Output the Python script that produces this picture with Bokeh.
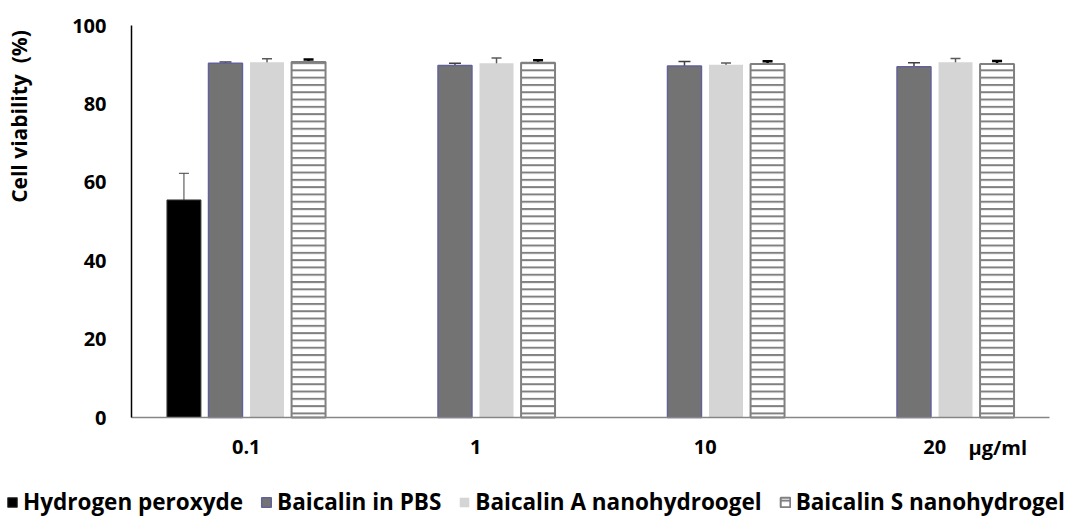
import numpy as np
from bokeh.plotting import figure
from bokeh.models import (ColumnDataSource, Range1d, FixedTicker, Whisker, TeeHead,
                          Legend, LegendItem, Label)
from bokeh.embed import file_html
from bokeh.resources import INLINE

# ---- data ----
concentrations = ["0.1", "1", "10", "20"]
unit_text = "\u00b5g/ml"
y_title = "Cell viability\u00a0\u00a0(%)"
h2o2_conc = ["0.1"]
h2o2 = [55.5]
h2o2_err = [6.8]
pbs = [90.4, 89.8, 89.7, 89.5]
pbs_err = [0.3, 0.6, 1.1, 1.0]
gel_a = [90.6, 90.4, 90.0, 90.6]
gel_a_err = [0.9, 1.3, 0.45, 0.95]
gel_s = [90.7, 90.5, 90.2, 90.2]
gel_s_err = [0.6, 0.65, 0.65, 0.75]
series_names = ["Hydrogen peroxyde", "Baicalin in PBS",
                "Baicalin A nanohydroogel", "Baicalin S nanohydrogel"]
y_ticks = [0, 20, 40, 60, 80, 100]

FONT = "Open Sans"
W, H = 1075, 519
# pixel layout of the plotting area (axes at px 131 / 417, top at 25, right at 1049)
AX_L, AX_R, AX_T, AX_B = 131, 1049, 25, 417
ncat = len(concentrations)
xs = (AX_R - AX_L) / ncat          # px per category unit
ys = (AX_B - AX_T) / 100.0         # px per percent

centers = {c: i + 0.5 for i, c in enumerate(concentrations)}
step = 0.181
bw = 0.148

styles = [
    dict(fill_color="black", line_color="#3a3a3a", line_width=1),
    dict(fill_color="#737373", line_color="#62629a", line_width=1.5),
    dict(fill_color="#d5d5d5", line_color=None),
    dict(fill_color="white", line_color="#808080", line_width=2,
         hatch_pattern="horizontal_line", hatch_color="#808080",
         hatch_weight=2, hatch_scale=7.3),
]


def src(concs, vals, errs, k):
    x = [centers[c] + (k - 1.5) * step for c in concs]
    v = np.array(vals)
    e = np.array(errs)
    return ColumnDataSource(dict(x=x, top=v, upper=v + e, lower=v - e))


p = figure(width=W, height=H, output_backend="svg", toolbar_location=None,
           x_range=Range1d(-AX_L / xs, ncat + (W - AX_R) / xs),
           y_range=Range1d(-(H - AX_B) / ys, 100 + AX_T / ys),
           min_border=0, min_border_left=0, min_border_right=0,
           min_border_top=0, min_border_bottom=0)
p.outline_line_color = None
p.grid.visible = False
p.background_fill_color = "white"
p.border_fill_color = "white"

sources = [src(h2o2_conc, h2o2, h2o2_err, 0),
           src(concentrations, pbs, pbs_err, 1),
           src(concentrations, gel_a, gel_a_err, 2),
           src(concentrations, gel_s, gel_s_err, 3)]

renderers = [p.vbar(x="x", top="top", width=bw, source=s, **st)
             for s, st in zip(sources, styles)]

for s, col, lw, sz in zip(sources, ["#404040", "#404040", "#5a5a5a", "black"],
                          [1, 1.5, 1.5, 2.5], [10, 12, 10, 10]):
    w = Whisker(source=s, base="x", upper="upper", lower="lower",
                line_color=col, line_width=lw,
                upper_head=TeeHead(size=sz, line_color=col, line_width=lw),
                lower_head=TeeHead(size=sz, line_color=col, line_width=lw))
    p.add_layout(w)

# x axis drawn at y = 0
p.xaxis.fixed_location = 0
p.xaxis.bounds = (0, ncat)
p.xaxis.ticker = FixedTicker(ticks=[centers[c] for c in concentrations])
p.xaxis.major_label_overrides = {centers[c]: c for c in concentrations}
p.xaxis.major_tick_line_color = None
p.xaxis.minor_tick_line_color = None
p.xaxis.major_tick_out = 0
p.xaxis.major_tick_in = 0
p.xaxis.major_label_standoff = 22
p.xaxis.axis_line_color = "#868686"
p.xaxis.axis_line_width = 1.5
p.xaxis.major_label_text_font = FONT
p.xaxis.major_label_text_font_style = "bold"
p.xaxis.major_label_text_font_size = "20px"
p.xaxis.major_label_text_color = "black"

# y axis drawn at x = 0
p.yaxis.fixed_location = 0
p.yaxis.bounds = (0, 100)
p.yaxis.ticker = FixedTicker(ticks=y_ticks)
p.yaxis.major_tick_line_color = None
p.yaxis.minor_tick_line_color = None
p.yaxis.major_tick_out = 0
p.yaxis.major_tick_in = 0
p.yaxis.major_label_standoff = 25
p.yaxis.axis_line_color = "black"
p.yaxis.axis_line_width = 1.5
p.yaxis.major_label_text_font = FONT
p.yaxis.major_label_text_font_style = "bold"
p.yaxis.major_label_text_font_size = "20px"
p.yaxis.major_label_text_color = "black"

p.add_layout(Label(x=(18 - AX_L) / xs, y=(AX_B - 116) / ys, text=y_title,
                   angle=np.pi / 2, text_align="center", text_baseline="middle",
                   text_font=FONT, text_font_style="bold", text_font_size="21px",
                   text_color="black"))

p.add_layout(Label(x=(968 - AX_L) / xs, y=(AX_B - 447) / ys, text=unit_text,
                   text_align="left", text_baseline="middle", text_font=FONT,
                   text_font_style="bold", text_font_size="20px",
                   text_color="black"))

legend = Legend(items=[LegendItem(label=n, renderers=[r])
                       for n, r in zip(series_names, renderers)],
                orientation="horizontal", location=(6, 2),
                label_text_font=FONT, label_text_font_style="bold",
                label_text_font_size="22.5px", label_text_color="black",
                glyph_width=12, glyph_height=12, label_standoff=5, spacing=17,
                padding=0, margin=0, border_line_color=None,
                background_fill_alpha=0)
p.add_layout(legend, "center")

open("out.html", "w").write(file_html(p, INLINE))
